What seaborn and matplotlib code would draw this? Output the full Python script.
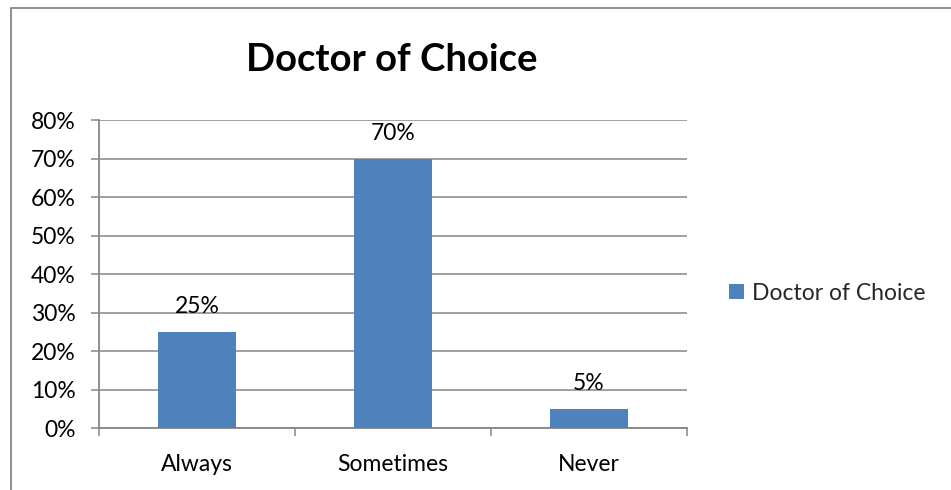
import matplotlib
matplotlib.use("Agg")
import matplotlib.pyplot as plt
from matplotlib.patches import Rectangle, Patch
from matplotlib.ticker import FixedLocator, PercentFormatter
import seaborn as sns
import pandas as pd

categories = ["Always", "Sometimes", "Never"]
values = [25, 70, 5]
series_name = "Doctor of Choice"
title = "Doctor of Choice"
y_ticks = [0, 10, 20, 30, 40, 50, 60, 70, 80]

BAR = "#4F81BD"
GRID = "#868686"
FONT = ["Lato", "DejaVu Sans"]
FS = 16.5

sns.set_theme(style="white")
plt.rcParams["font.family"] = FONT

W, H = 951, 490
fig = plt.figure(figsize=(W / 100, H / 100), dpi=100)
fig.patch.set_facecolor("white")

# outer chart frame
fig.patches.append(Rectangle((11 / W, -0.1), 1.2, 1 - 8 / H + 0.1,
                             transform=fig.transFigure, fill=False,
                             edgecolor=GRID, linewidth=1.3))

x0, x1, y0, y1 = 99, 687, 428, 120
ax = fig.add_axes([x0 / W, 1 - y0 / H, (x1 - x0) / W, (y0 - y1) / H])

df = pd.DataFrame({"category": categories, "value": values})
sns.barplot(data=df, x="category", y="value", color=BAR, width=0.4,
            saturation=1, linewidth=0, edgecolor=BAR, ax=ax, zorder=3)

ax.set_xlim(-0.5, len(categories) - 0.5)
ax.set_ylim(0, 80)
ax.set_yticks(y_ticks)
ax.yaxis.set_major_formatter(PercentFormatter(decimals=0))
ax.yaxis.grid(True, color=GRID, linewidth=1.1, zorder=0)
ax.set_axisbelow(True)

for s in ["top", "right"]:
    ax.spines[s].set_visible(False)
for s in ["left", "bottom"]:
    ax.spines[s].set_color(GRID)
    ax.spines[s].set_linewidth(1.3)

ax.set_xlabel("")
ax.set_ylabel("")
ax.tick_params(axis="y", which="major", length=6, width=1.1, color=GRID,
               labelsize=FS, labelcolor="black", pad=11, left=True)
ax.tick_params(axis="x", which="major", length=0, labelsize=FS,
               labelcolor="black", pad=19)
ax.xaxis.set_minor_locator(FixedLocator([-0.5, 0.5, 1.5, 2.5]))
ax.tick_params(axis="x", which="minor", length=6, width=1.1, color=GRID,
               bottom=True)

for i, v in enumerate(values):
    ax.annotate(f"{v}%", (i, v), xytext=(0, 13.5), textcoords="offset points",
                ha="center", va="baseline", fontsize=FS, color="black")

fig.text(392 / W, 1 - 60 / H, title, ha="center", va="center",
         fontsize=27.5, fontweight="bold", color="black")

handles = [Patch(facecolor=BAR, edgecolor="none", label=series_name)]
fig.legend(handles=handles, loc="center left", bbox_to_anchor=(708 / W, 1 - 293 / H),
           frameon=False, fontsize=16.5, handlelength=0.65, handleheight=0.65,
           handletextpad=0.35)

fig.savefig("out.png", dpi=100, facecolor="white")
